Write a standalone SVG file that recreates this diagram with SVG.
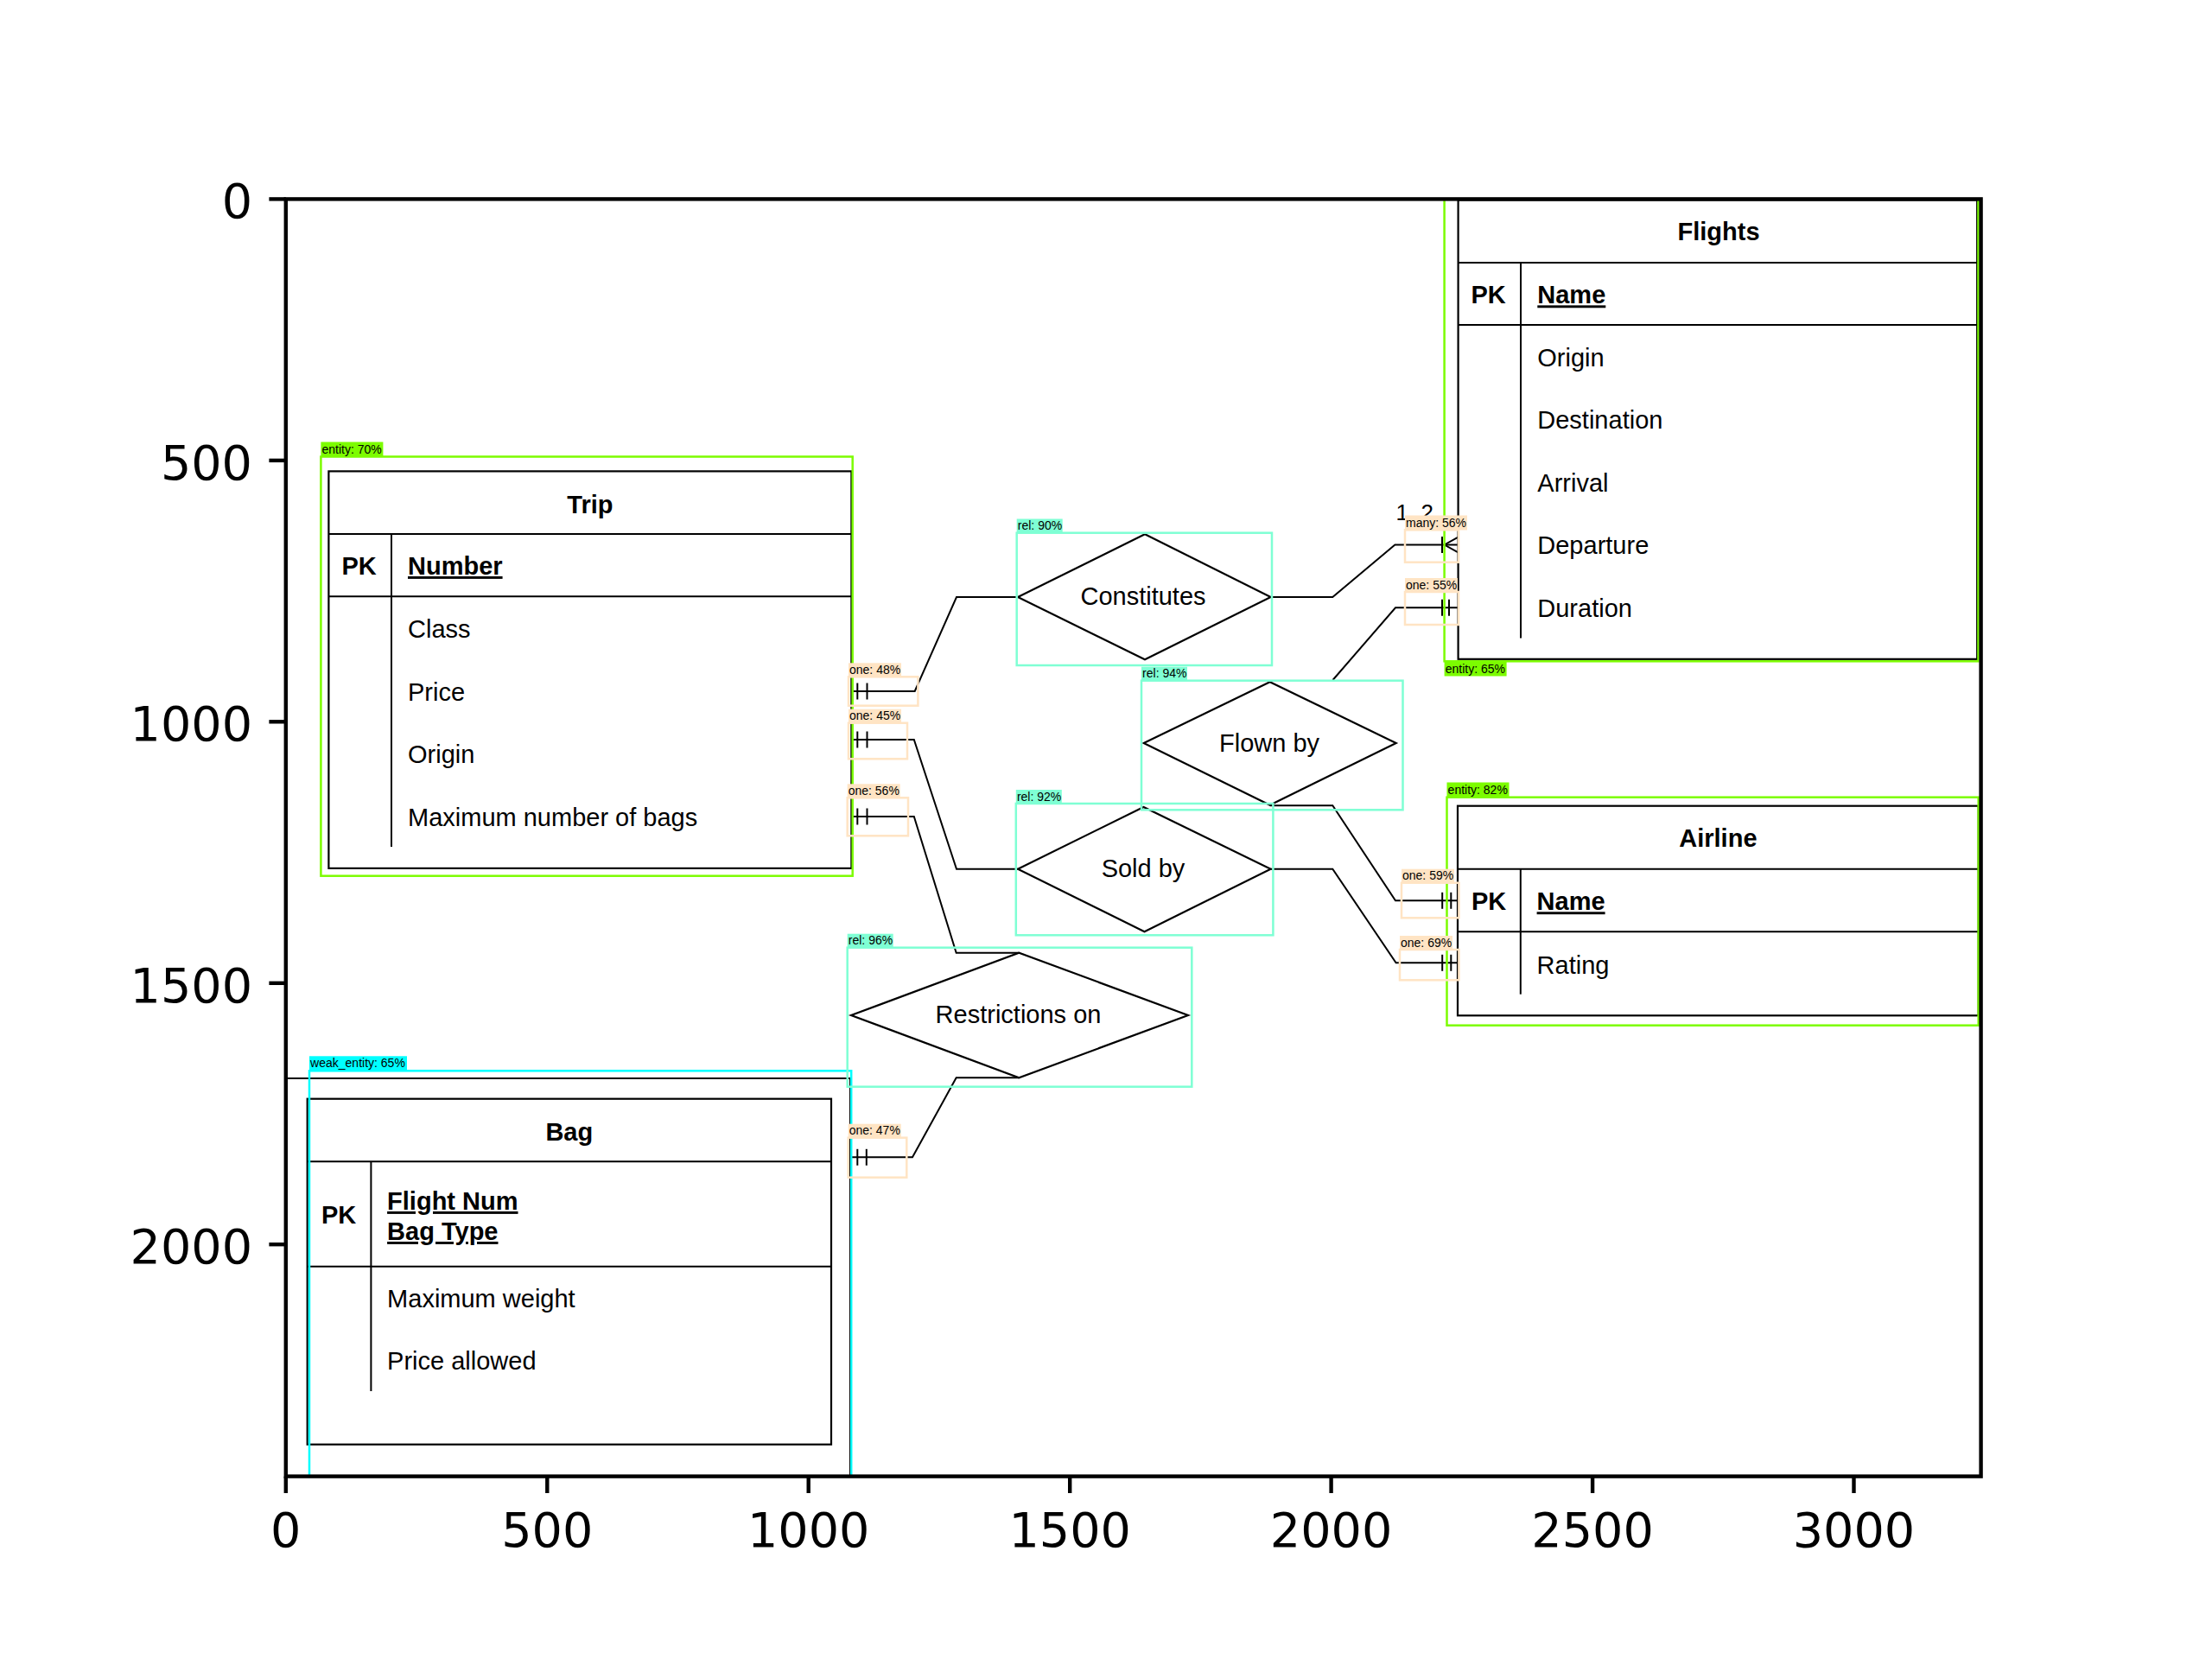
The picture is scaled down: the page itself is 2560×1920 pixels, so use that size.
<svg xmlns="http://www.w3.org/2000/svg" width="2560" height="1920" viewBox="0 0 2560 1920">
<style>
.ln{fill:none;stroke:#000;stroke-width:2;stroke-linejoin:miter}
.ent{fill:#fff;stroke:#000;stroke-width:2.2}
.dia{fill:#fff;stroke:#000;stroke-width:2.2}
.t{font-family:"Liberation Sans",Arial,Helvetica,sans-serif;font-size:29px;fill:#000}
.b{font-weight:bold}
.u{text-decoration:underline}
.mid{text-anchor:middle}
.tg{font-family:"Liberation Sans",Arial,sans-serif;font-size:14px;fill:#000}
.de{fill:none;stroke:#7CFC00;stroke-width:2.5}
.dr{fill:none;stroke:#7FFFD4;stroke-width:2.5}
.dw{fill:none;stroke:#00FFFF;stroke-width:2.5}
.dc{fill:none;stroke:#FFE4C4;stroke-width:2.5}
.te{fill:#7CFC00}.tr{fill:#7FFFD4}.tw{fill:#00FFFF}.tc{fill:#FFE4C4}
.ax{font-family:"DejaVu Sans",sans-serif;font-size:55.6px;fill:#000}
.tick{stroke:#000;stroke-width:4.4}
</style>
<defs>
<clipPath id="axclip"><rect x="330.8" y="230.4" width="1961.8" height="1478.2"/></clipPath>
</defs>
<rect x="0" y="0" width="2560" height="1920" fill="#fff"/>
<g clip-path="url(#axclip)">
<rect x="330.8" y="230.4" width="1961.8" height="1478.2" fill="#fff"/>

<g id="connectors">
<polyline class="ln" points="985.4,800 1058.7,800 1107,691 1178,691"/>
<line class="ln" x1="992.3" y1="790.5" x2="992.3" y2="809.5"/><line class="ln" x1="1003.5" y1="790.5" x2="1003.5" y2="809.5"/>
<polyline class="ln" points="985.4,856 1057.8,856 1107,1005.7 1178,1005.7"/>
<line class="ln" x1="992.3" y1="846.5" x2="992.3" y2="865.5"/><line class="ln" x1="1003.5" y1="846.5" x2="1003.5" y2="865.5"/>
<polyline class="ln" points="985.4,945 1057.8,945 1106.7,1102.7 1179.3,1102.7"/>
<line class="ln" x1="992.3" y1="935.5" x2="992.3" y2="954.5"/><line class="ln" x1="1003.5" y1="935.5" x2="1003.5" y2="954.5"/>
<polyline class="ln" points="1179.3,1247.3 1106.7,1247.3 1056,1339.3 984,1339.3"/>
<line class="ln" x1="992.3" y1="1329.8" x2="992.3" y2="1348.8"/><line class="ln" x1="1002.8" y1="1329.8" x2="1002.8" y2="1348.8"/>
<polyline class="ln" points="1470.6,691 1542.3,691 1614.4,630.5 1687.6,630.5"/>
<line class="ln" x1="1669" y1="621" x2="1669" y2="640"/>
<polyline class="ln" points="1687.6,621.7 1671.7,630.5 1687.6,639.3"/>
<polyline class="ln" points="1687.6,703.3 1615,703.3 1542.5,787"/>
<line class="ln" x1="1669" y1="693.8" x2="1669" y2="712.8"/><line class="ln" x1="1677" y1="693.8" x2="1677" y2="712.8"/>
<polyline class="ln" points="1469.7,932.3 1542.3,932.3 1615,1042.3 1687,1042.3"/>
<line class="ln" x1="1669.2" y1="1032.8" x2="1669.2" y2="1051.8"/><line class="ln" x1="1679.3" y1="1032.8" x2="1679.3" y2="1051.8"/>
<polyline class="ln" points="1470.6,1005.7 1542.3,1005.7 1615.6,1114.3 1687,1114.3"/>
<line class="ln" x1="1669.2" y1="1104.8" x2="1669.2" y2="1123.8"/><line class="ln" x1="1679.3" y1="1104.8" x2="1679.3" y2="1123.8"/>
</g>

<g id="trip">
<rect class="ent" x="380.4" y="545.4" width="605" height="459.5"/>
<line class="ln" x1="380.4" y1="617.9" x2="985.4" y2="617.9"/>
<line class="ln" x1="380.4" y1="690.3" x2="985.4" y2="690.3"/>
<line class="ln" x1="453" y1="617.9" x2="453" y2="980"/>
<text class="t b mid" x="682.9" y="594">Trip</text>
<text class="t b" x="395.5" y="665">PK</text>
<text class="t b u" x="472" y="665">Number</text>
<text class="t" x="472" y="738">Class</text>
<text class="t" x="472" y="810.5">Price</text>
<text class="t" x="472" y="883">Origin</text>
<text class="t" x="472" y="955.5">Maximum number of bags</text>
</g>

<g id="flights">
<rect class="ent" x="1687.6" y="231.5" width="600.6" height="531.3"/>
<line class="ln" x1="1687.6" y1="303.9" x2="2288.2" y2="303.9"/>
<line class="ln" x1="1687.6" y1="376.1" x2="2288.2" y2="376.1"/>
<line class="ln" x1="1760" y1="303.9" x2="1760" y2="738.5"/>
<text class="t b mid" x="1989" y="278">Flights</text>
<text class="t b" x="1702.5" y="351.4">PK</text>
<text class="t b u" x="1779.3" y="351.4">Name</text>
<text class="t" x="1779.3" y="424">Origin</text>
<text class="t" x="1779.3" y="496">Destination</text>
<text class="t" x="1779.3" y="568.5">Arrival</text>
<text class="t" x="1779.3" y="641.4">Departure</text>
<text class="t" x="1779.3" y="714">Duration</text>
</g>

<g id="airline">
<rect class="ent" x="1687" y="932.7" width="602.7" height="242.6"/>
<line class="ln" x1="1687" y1="1005.7" x2="2289.7" y2="1005.7"/>
<line class="ln" x1="1687" y1="1078.3" x2="2289.7" y2="1078.3"/>
<line class="ln" x1="1759.8" y1="1005.7" x2="1759.8" y2="1150.7"/>
<text class="t b mid" x="1988.4" y="980">Airline</text>
<text class="t b" x="1703" y="1053.3">PK</text>
<text class="t b u" x="1778.6" y="1053.3">Name</text>
<text class="t" x="1778.6" y="1126.7">Rating</text>
</g>

<g id="bag">
<polyline class="ln" points="320,1248 984,1248 984,1720"/>
<rect class="ent" x="355.7" y="1271.7" width="606.3" height="400"/>
<line class="ln" x1="355.7" y1="1344.3" x2="962" y2="1344.3"/>
<line class="ln" x1="355.7" y1="1465.7" x2="962" y2="1465.7"/>
<line class="ln" x1="429.4" y1="1344.3" x2="429.4" y2="1610"/>
<text class="t b mid" x="658.8" y="1320">Bag</text>
<text class="t b" x="372" y="1415.7">PK</text>
<text class="t b u" x="448.1" y="1400">Flight Num</text>
<text class="t b u" x="448.1" y="1435">Bag Type</text>
<text class="t" x="448.1" y="1513.3">Maximum weight</text>
<text class="t" x="448.1" y="1585">Price allowed</text>
</g>

<g id="constitutes">
<polygon class="dia" points="1178,691 1325,618.3 1470.6,691 1325,763.3"/>
<text class="t mid" x="1323" y="700">Constitutes</text>
</g>
<g id="flown-by">
<polygon class="dia" points="1323.7,860 1469.7,789.3 1615.7,860 1469.7,931.7"/>
<text class="t mid" x="1469" y="870">Flown by</text>
</g>
<g id="sold-by">
<polygon class="dia" points="1178,1005.7 1323.5,934 1470.6,1005.7 1324.5,1078.3"/>
<text class="t mid" x="1323" y="1015">Sold by</text>
</g>
<g id="restrictions-on">
<polygon class="dia" points="985,1175 1179.3,1102.7 1375,1175 1179.3,1247.3"/>
<text class="t mid" x="1178.5" y="1184">Restrictions on</text>
</g>

<text class="t" x="1615.5" y="601.7" style="font-size:26px">1..2</text>

<g id="detections">
<rect class="de" x="371.4" y="528.5" width="615.3" height="485.2"/>
<rect class="de" x="1671.6" y="200" width="617.9" height="565.3"/>
<rect class="de" x="1674.5" y="922.7" width="615.2" height="264"/>
<rect class="dw" x="358" y="1239.3" width="627.2" height="520"/>
<rect class="dr" x="1176.7" y="616.7" width="295.3" height="153.3"/>
<rect class="dr" x="1321" y="787.7" width="302.5" height="149.6"/>
<rect class="dr" x="1175.8" y="930" width="297.6" height="152.3"/>
<rect class="dr" x="980.7" y="1096.7" width="398.6" height="161"/>
<rect class="dc" x="982" y="783.3" width="80.4" height="33.4"/>
<rect class="dc" x="982" y="836.7" width="68" height="41.6"/>
<rect class="dc" x="980.7" y="923.3" width="70.3" height="44"/>
<rect class="dc" x="981.7" y="1316.7" width="67.6" height="46"/>
<rect class="dc" x="1626" y="613.3" width="62" height="37.4"/>
<rect class="dc" x="1626" y="685" width="62" height="38"/>
<rect class="dc" x="1622" y="1021.7" width="66.4" height="40.6"/>
<rect class="dc" x="1620" y="1099" width="68.4" height="35.3"/>

<rect class="te" x="371.4" y="511.5" width="72" height="17"/><text class="tg" x="372.5" y="524.5">entity: 70%</text>
<rect class="te" x="1671.6" y="766" width="72" height="16.5"/><text class="tg" x="1672.7" y="779">entity: 65%</text>
<rect class="te" x="1674.5" y="905.5" width="72" height="17"/><text class="tg" x="1675.6" y="918.5">entity: 82%</text>
<rect class="tw" x="358" y="1222.3" width="113" height="17"/><text class="tg" x="359.1" y="1235.3">weak_entity: 65%</text>
<rect class="tr" x="1176.7" y="600.5" width="53" height="16"/><text class="tg" x="1177.8" y="613">rel: 90%</text>
<rect class="tr" x="1321" y="771.7" width="53" height="16"/><text class="tg" x="1322.1" y="784.2">rel: 94%</text>
<rect class="tr" x="1175.8" y="914" width="53" height="16"/><text class="tg" x="1176.9" y="926.5">rel: 92%</text>
<rect class="tr" x="980.7" y="1080.7" width="53" height="16"/><text class="tg" x="981.8" y="1093.2">rel: 96%</text>
<rect class="tc" x="982" y="767.3" width="61" height="16"/><text class="tg" x="983" y="779.8">one: 48%</text>
<rect class="tc" x="982" y="820.7" width="61" height="16"/><text class="tg" x="983" y="833.2">one: 45%</text>
<rect class="tc" x="980.7" y="907.3" width="61" height="16"/><text class="tg" x="981.7" y="919.8">one: 56%</text>
<rect class="tc" x="981.7" y="1300.7" width="61" height="16"/><text class="tg" x="982.7" y="1313.2">one: 47%</text>
<rect class="tc" x="1626" y="596.5" width="72" height="17"/><text class="tg" x="1627" y="609.5">many: 56%</text>
<rect class="tc" x="1626" y="669" width="61" height="16"/><text class="tg" x="1627" y="681.5">one: 55%</text>
<rect class="tc" x="1622" y="1005.7" width="61" height="16"/><text class="tg" x="1623" y="1018.2">one: 59%</text>
<rect class="tc" x="1620" y="1083" width="61" height="16"/><text class="tg" x="1621" y="1095.5">one: 69%</text>
</g>
</g>

<g id="axes">
<rect x="330.8" y="230.4" width="1961.8" height="1478.2" fill="none" stroke="#000" stroke-width="4.4"/>
<g class="tick">
<line x1="330.8" y1="1708.6" x2="330.8" y2="1728"/>
<line x1="633.3" y1="1708.6" x2="633.3" y2="1728"/>
<line x1="935.7" y1="1708.6" x2="935.7" y2="1728"/>
<line x1="1238.2" y1="1708.6" x2="1238.2" y2="1728"/>
<line x1="1540.6" y1="1708.6" x2="1540.6" y2="1728"/>
<line x1="1843.1" y1="1708.6" x2="1843.1" y2="1728"/>
<line x1="2145.5" y1="1708.6" x2="2145.5" y2="1728"/>
<line x1="330.8" y1="230.4" x2="311.4" y2="230.4"/>
<line x1="330.8" y1="532.9" x2="311.4" y2="532.9"/>
<line x1="330.8" y1="835.3" x2="311.4" y2="835.3"/>
<line x1="330.8" y1="1137.8" x2="311.4" y2="1137.8"/>
<line x1="330.8" y1="1440.2" x2="311.4" y2="1440.2"/>
</g>
<g class="ax" text-anchor="middle">
<text x="330.8" y="1790">0</text>
<text x="633.3" y="1790">500</text>
<text x="935.7" y="1790">1000</text>
<text x="1238.2" y="1790">1500</text>
<text x="1540.6" y="1790">2000</text>
<text x="1843.1" y="1790">2500</text>
<text x="2145.5" y="1790">3000</text>
</g>
<g class="ax" text-anchor="end">
<text x="292" y="252.4">0</text>
<text x="292" y="554.9">500</text>
<text x="292" y="857.3">1000</text>
<text x="292" y="1159.8">1500</text>
<text x="292" y="1462.2">2000</text>
</g>
</g>
</svg>
